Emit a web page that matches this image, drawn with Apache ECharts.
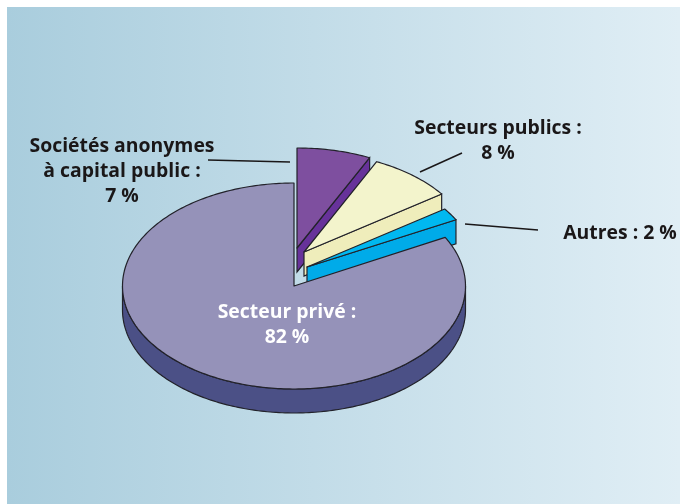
<!DOCTYPE html>
<html>
<head>
<meta charset="utf-8">
<style>html,body{margin:0;padding:0;background:#fff}#chart{width:680px;height:504px}</style>
<script src="https://cdn.jsdelivr.net/npm/echarts@6/dist/echarts.min.js"></script>
</head>
<body>
<div id="chart"></div>
<script>
// Shares in percent, clockwise from twelve o'clock (published figures add up to 99)
const sectors = ['Sociétés anonymes\nà capital public :', 'Secteurs publics :', 'Autres :', 'Secteur privé :'];
const shares = [7, 8, 2, 82];

// Slice colours: top face, radial side face, outer rim
const topColors = ['#7e4f9f', '#f3f4cc', '#00b8f0', '#9592b9'];
const sideColors = ['#67329a', '#efedbb', '#00abe9', '#4b5086'];
const labelColors = ['#1a1718', '#1a1718', '#1a1718', '#ffffff'];

// Projected pie: ellipse radii per slice, rim depth, centre, and how far each slice is pulled out
const radiusX = [169, 169, 169, 171.5];
const radiusY = [100, 100, 100, 103];
const depth = 24;
const centre = [294, 286];
const pullOut = [[3, -38], [10, -34], [13, -19], [0, 0]];

// Anchor of each label block and the leader line tying it to its slice
const labelAnchors = [[122, 134], [498, 116], [620, 221], [287, 300]];
const leaders = [
  [[208, 160], [290, 162]],
  [[420, 172], [462, 153]],
  [[465, 224], [538, 230]],
  null
];

const total = shares.reduce((a, b) => a + b, 0);
const outline = { stroke: '#22222a', lineWidth: 1.2 };

function arc(i, cx, cy, from, to) {
  const pts = [];
  const steps = Math.max(2, Math.ceil(to - from));
  for (let k = 0; k <= steps; k++) {
    const t = (from + (to - from) * k / steps) * Math.PI / 180;
    pts.push([cx + radiusX[i] * Math.sin(t), cy - radiusY[i] * Math.cos(t)]);
  }
  return pts;
}

function renderSlice(params, api) {
  const i = params.dataIndex;
  const value = api.value(0);
  const before = shares.slice(0, i).reduce((a, b) => a + b, 0);
  const from = before / total * 360;
  const to = (before + value) / total * 360;
  const cx = centre[0] + pullOut[i][0];
  const cy = centre[1] + pullOut[i][1];
  const children = [];

  // Radial wall on the clockwise end of the slice, seen when it faces the viewer
  if (to > 0 && to < 180) {
    const e = arc(i, cx, cy, to, to + 0.001)[0];
    children.push({
      type: 'polygon',
      shape: { points: [[cx, cy], e, [e[0], e[1] + depth], [cx, cy + depth]] },
      style: { fill: sideColors[i], ...outline }
    });
  }

  // Outer rim on the front half of the ellipse
  const rimFrom = Math.max(from, 90);
  const rimTo = Math.min(to, 270);
  if (rimTo > rimFrom) {
    const upper = arc(i, cx, cy, rimFrom, rimTo);
    const lower = arc(i, cx, cy + depth, rimFrom, rimTo).reverse();
    children.push({
      type: 'polygon',
      shape: { points: upper.concat(lower) },
      style: { fill: sideColors[i], ...outline }
    });
  }

  // Top face
  children.push({
    type: 'polygon',
    shape: { points: [[cx, cy]].concat(arc(i, cx, cy, from, to)) },
    style: { fill: topColors[i], ...outline, lineJoin: 'round' }
  });

  if (leaders[i]) {
    children.push({
      type: 'line',
      shape: { x1: leaders[i][0][0], y1: leaders[i][0][1], x2: leaders[i][1][0], y2: leaders[i][1][1] },
      style: { stroke: '#1a1718', lineWidth: 1.5 }
    });
  }

  children.push({
    type: 'text',
    z2: 10,
    style: {
      x: labelAnchors[i][0],
      y: labelAnchors[i][1],
      text: sectors[i] + (i === 2 ? ' ' : '\n') + value + ' %',
      align: 'center',
      verticalAlign: 'top',
      fill: labelColors[i],
      font: 'bold 19.4px "Open Sans"',
      lineHeight: 25
    }
  });
  return { type: 'group', children };
}

const chart = echarts.init(document.getElementById('chart'), null, { renderer: 'canvas' });
chart.setOption({
  animation: false,
  backgroundColor: '#ffffff',
  graphic: [{
    type: 'rect',
    z: -1,
    shape: { x: 7, y: 7, width: 673, height: 497 },
    style: {
      fill: new echarts.graphic.LinearGradient(0, 0, 1, 0, [
        { offset: 0, color: '#a9cddd' },
        { offset: 1, color: '#e0eef5' }
      ])
    }
  }],
  series: [{
    type: 'custom',
    coordinateSystem: 'none',
    renderItem: renderSlice,
    data: shares.map((v, i) => ({ name: sectors[i], value: [v] }))
  }]
});
</script>
</body>
</html>
